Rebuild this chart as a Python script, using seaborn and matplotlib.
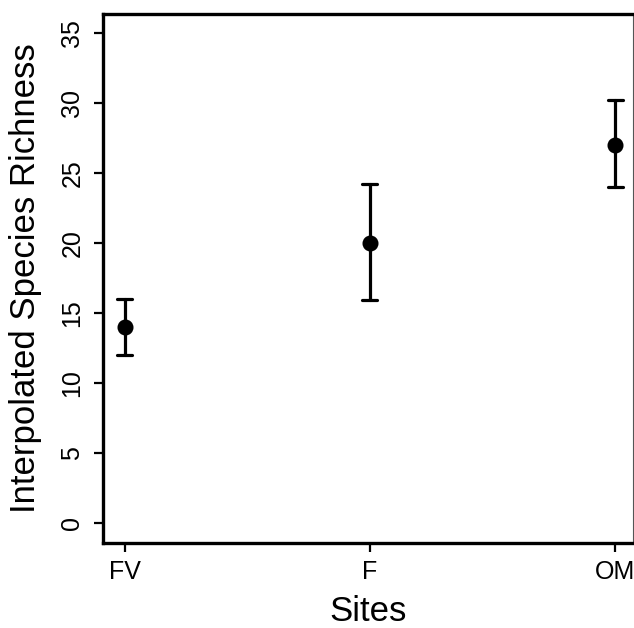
import pandas as pd
import numpy as np
import seaborn as sns
import matplotlib.pyplot as plt

sites = ['FV', 'F', 'OM']
richness = [14.0, 20.0, 27.0]
lower = [12.0, 15.9, 24.0]
upper = [16.0, 24.2, 30.2]

# long table: low / mid / high per site, median + full range gives the bars
rows = []
for s, lo, m, hi in zip(sites, lower, richness, upper):
    for v in (lo, m, hi):
        rows.append({'Sites': s, 'Richness': v})
df = pd.DataFrame(rows)

sns.set_style('ticks')
plt.rcParams['font.family'] = ['Liberation Sans', 'DejaVu Sans']
plt.rcParams['text.color'] = 'black'
plt.rcParams['axes.labelcolor'] = 'black'
plt.rcParams['xtick.color'] = 'black'
plt.rcParams['ytick.color'] = 'black'

fig = plt.figure(figsize=(6.34, 6.28), dpi=100)
ax = fig.add_axes([0.1625, 0.1354, 0.836, 0.842])

sns.pointplot(data=df, x='Sites', y='Richness', order=sites,
              estimator='median', errorbar=('pi', 100),
              color='black', linestyle='none', markersize=9.5,
              capsize=0.062, err_kws={'linewidth': 2.3}, ax=ax)

ax.set_xlim(-0.088, 2.073)
ax.set_ylim(-1.43, 36.36)
ax.set_yticks(np.arange(0, 36, 5))
ax.set_ylabel('Interpolated Species Richness', fontsize=25, labelpad=13)
ax.set_xlabel('Sites', fontsize=25, labelpad=7.5)
ax.tick_params(axis='both', labelsize=18, width=1.6, length=6.5)
ax.tick_params(axis='x', pad=6)
ax.tick_params(axis='y', pad=7)
plt.setp(ax.get_yticklabels(), rotation=90, va='center')

for side in ['left', 'bottom', 'top']:
    ax.spines[side].set_linewidth(2.4)
    ax.spines[side].set_color('black')
ax.spines['right'].set_linewidth(0.8)
ax.spines['right'].set_color('#555555')

fig.savefig('out.png', dpi=100)
